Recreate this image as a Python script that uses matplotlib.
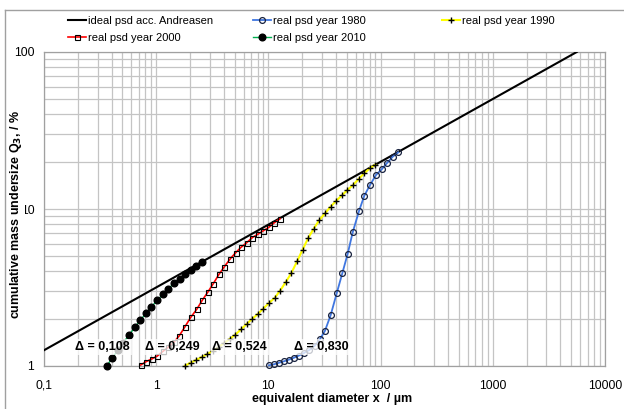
import matplotlib
matplotlib.use("Agg")
import matplotlib.pyplot as plt
from matplotlib.ticker import FixedLocator, NullFormatter, LogLocator
from matplotlib.lines import Line2D

plt.rcParams['font.family'] = ['Liberation Sans', 'DejaVu Sans']

# ---------------- data ----------------
x_ideal = [0.1, 5600]
q_ideal = [1.26, 100]

x_1980 = [10.12, 11.29, 12.51, 13.86, 15.36, 16.91, 18.74, 20.76, 23.14, 25.76, 28.72, 31.95,
          35.92, 40.62, 45.56, 50.91, 56.42, 64.22, 71.58, 80.46, 91.0, 102.3, 114.7, 128.2, 143.8]
q_1980 = [1.010, 1.027, 1.050, 1.073, 1.100, 1.129, 1.166, 1.210, 1.264, 1.341, 1.475, 1.678,
          2.113, 2.904, 3.894, 5.193, 7.106, 9.71, 12.15, 14.22, 16.47, 17.90, 19.72, 21.53, 22.97]

x_1990 = [1.806, 2.026, 2.272, 2.550, 2.860, 3.208, 3.599, 4.038, 4.529, 5.081, 5.700, 6.394,
          7.172, 8.046, 9.026, 10.12, 11.36, 12.74, 14.29, 16.03, 17.98, 20.17, 22.63, 25.39,
          28.48, 31.95, 35.84, 40.21, 45.11, 50.60, 56.77, 63.69, 71.44, 80.15, 89.9]
q_1990 = [1.004, 1.050, 1.092, 1.141, 1.192, 1.252, 1.321, 1.401, 1.486, 1.587, 1.708, 1.851,
          1.993, 2.144, 2.324, 2.519, 2.712, 3.026, 3.428, 3.912, 4.632, 5.506, 6.537, 7.511,
          8.511, 9.389, 10.34, 11.29, 12.19, 13.21, 14.22, 15.53, 16.88, 18.16, 19.20]

x_2000 = [0.728, 0.811, 0.912, 1.023, 1.143, 1.282, 1.441, 1.607, 1.806, 2.03, 2.30, 2.58, 2.88,
          3.23, 3.63, 4.05, 4.55, 5.11, 5.70, 6.41, 7.19, 8.03, 9.01, 10.1, 11.3, 12.7]
q_2000 = [1.015, 1.065, 1.108, 1.158, 1.237, 1.32, 1.42, 1.56, 1.78, 2.04, 2.30, 2.63, 2.95,
          3.35, 3.84, 4.29, 4.80, 5.27, 5.70, 6.10, 6.58, 6.90, 7.27, 7.65, 8.18, 8.67]

x_2010 = [0.362, 0.406, 0.456, 0.511, 0.573, 0.643, 0.722, 0.810, 0.908, 1.019, 1.143, 1.282,
          1.438, 1.614, 1.810, 2.030, 2.278, 2.555]
q_2010 = [1.00, 1.126, 1.264, 1.411, 1.576, 1.759, 1.955, 2.166, 2.386, 2.614, 2.854, 3.108,
          3.354, 3.598, 3.855, 4.088, 4.336, 4.598]

delta_labels = ['Δ = 0,108', 'Δ = 0,249', 'Δ = 0,524', 'Δ = 0,830']

x_ticks = [0.1, 1, 10, 100, 1000, 10000]
x_tick_labels = ['0,1', '1', '10', '100', '1000', '10000']
y_ticks = [1, 10, 100]
y_tick_labels = ['1', '10', '100']

series_names = ['ideal psd acc. Andreasen', 'real psd year 1980', 'real psd year 1990',
                'real psd year 2000', 'real psd year 2010']

# ---------------- figure ----------------
W, H = 624, 409
fig = plt.figure(figsize=(W / 100, H / 100), dpi=100)
ax = fig.add_axes([44 / W, 1 - 366 / H, 561 / W, 314 / H])
ax.set_xscale('log')
ax.set_yscale('log')
ax.set_xlim(0.1, 10000)
ax.set_ylim(1, 100)

ax.xaxis.set_major_locator(FixedLocator(x_ticks))
ax.set_xticklabels(x_tick_labels)
ax.yaxis.set_major_locator(FixedLocator(y_ticks))
ax.set_yticklabels(y_tick_labels)
ax.xaxis.set_minor_locator(LogLocator(base=10, subs=range(2, 10), numticks=20))
ax.yaxis.set_minor_locator(LogLocator(base=10, subs=range(2, 10), numticks=20))
ax.xaxis.set_minor_formatter(NullFormatter())
ax.yaxis.set_minor_formatter(NullFormatter())
ax.tick_params(which='both', length=0, labelsize=8.7, colors='#000000')
ax.tick_params(axis='x', pad=10)
ax.tick_params(axis='y', pad=7)

ax.grid(True, which='both', color='#c4c4c4', lw=0.9)
ax.set_axisbelow(True)
for s in ax.spines.values():
    s.set_color('#a0a0a0')
    s.set_linewidth(0.9)

h_ideal, = ax.plot(x_ideal, q_ideal, color='black', lw=1.5, zorder=3)
h_1980, = ax.plot(x_1980, q_1980, color='#3f76e0', lw=1.3, marker='o', ms=4.2,
                  mfc='none', mec='#18223f', mew=0.9, zorder=4, clip_on=False)
h_1990, = ax.plot(x_1990, q_1990, color='#ffff00', lw=1.5, marker='+', ms=5,
                  mec='black', mew=1.0, zorder=4, clip_on=False)
h_2000, = ax.plot(x_2000, q_2000, color='#ff0000', lw=1.2, marker='s', ms=3.6,
                  mfc='none', mec='black', mew=0.8, zorder=4, clip_on=False)
h_2010, = ax.plot(x_2010, q_2010, color='#00b050', lw=1.0, marker='o', ms=4.8,
                  mfc='black', mec='black', zorder=4, clip_on=False)

# delta labels
label_pos_x = [0.104, 0.229, 0.349, 0.495]
for lx, txt in zip(label_pos_x, delta_labels):
    ax.text(lx, 0.0605, txt, transform=ax.transAxes, ha='center', va='center',
            fontsize=9, fontweight='bold', zorder=6,
            bbox=dict(boxstyle='square,pad=0.15', fc='white', ec='none', alpha=0.75))

ax.set_xlabel('equivalent diameter x  / µm', fontsize=9, fontweight='bold')
ax.set_ylabel('cumulative mass undersize Q$_\\mathbf{3}$, / %', fontsize=9, fontweight='bold',
              bbox=dict(boxstyle='square,pad=0.1', fc='white', ec='none'))
ax.yaxis.set_label_coords(-20 / 561, (366 - 215) / 314)
ax.xaxis.set_label_coords(0.513, -(393 - 366) / 314)

# legends (three columns, placed individually)
leg_kw = dict(loc='upper left', frameon=False, fontsize=8, borderpad=0, borderaxespad=0,
              handlelength=1.6, handletextpad=0.2, labelspacing=0.6)
l1 = fig.legend([h_ideal, h_2000], [series_names[0], series_names[3]],
                bbox_to_anchor=(68 / W, 1 - 16 / H), **leg_kw)
l2 = fig.legend([h_1980, h_2010], [series_names[1], series_names[4]],
                bbox_to_anchor=(253 / W, 1 - 16 / H), **leg_kw)
l3 = fig.legend([h_1990], [series_names[2]],
                bbox_to_anchor=(442 / W, 1 - 16 / H), **leg_kw)

# outer frame (left and top edges visible)
fig.add_artist(Line2D([5 / W, 5 / W], [0, 1 - 10 / H], transform=fig.transFigure,
                      color='#a0a0a0', lw=1.0))
fig.add_artist(Line2D([5 / W, 1], [1 - 10 / H, 1 - 10 / H], transform=fig.transFigure,
                      color='#a0a0a0', lw=1.0))

fig.savefig('out.png', dpi=100)
